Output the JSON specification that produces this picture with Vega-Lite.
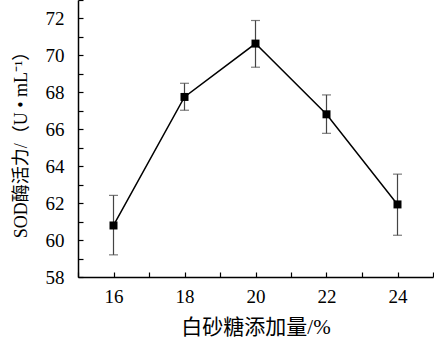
{
  "$schema": "https://vega.github.io/schema/vega-lite/v6.json",
  "width": 355,
  "height": 277,
  "autosize": {"type": "none"},
  "padding": {"left": 78, "top": 0, "right": 1, "bottom": 66},
  "background": "white",
  "config": {
    "font": "'Liberation Serif', 'DejaVu Serif', serif",
    "view": {"stroke": null},
    "axis": {
      "labelFontSize": 19,
      "titleFontSize": 19,
      "labelColor": "black",
      "titleColor": "black",
      "titleFontWeight": "normal",
      "domainColor": "black",
      "domainWidth": 1.5,
      "tickColor": "black",
      "tickWidth": 1.2,
      "grid": false
    }
  },
  "data": {
    "values": [
      {"x": 16, "y": 60.79, "lo": 59.2, "hi": 62.42},
      {"x": 18, "y": 67.75, "lo": 67.03, "hi": 68.49},
      {"x": 20, "y": 70.64, "lo": 69.36, "hi": 71.89},
      {"x": 22, "y": 66.81, "lo": 65.78, "hi": 67.86},
      {"x": 24, "y": 61.93, "lo": 60.26, "hi": 63.57}
    ]
  },
  "encoding": {
    "x": {
      "field": "x",
      "type": "quantitative",
      "scale": {"domain": [15, 25], "nice": false, "zero": false},
      "axis": {
        "title": "白砂糖添加量/%",
        "labelFont": "'Liberation Serif', 'DejaVu Serif', serif",
        "titleFont": "'Liberation Serif', 'Noto Sans CJK SC', serif",
        "titleFontSize": 21,
        "values": [15, 16, 17, 18, 19, 20, 21, 22, 23, 24, 25],
        "labelExpr": "datum.value % 2 == 0 && datum.value > 15 && datum.value < 25 ? datum.label : ''",
        "tickSize": -5,
        "labelPadding": 15,
        "titlePadding": 10,
        "labelFlush": false
      }
    },
    "y": {
      "field": "y",
      "type": "quantitative",
      "scale": {"domain": [58, 73], "nice": false, "zero": false},
      "axis": {
        "title": "SOD酶活力/（U • mL⁻¹）",
        "labelFont": "'Liberation Serif', 'DejaVu Serif', serif",
        "titleFont": "'Liberation Serif', 'Noto Sans CJK SC', serif",
        "titleFontSize": 18,
        "values": [58, 59, 60, 61, 62, 63, 64, 65, 66, 67, 68, 69, 70, 71, 72, 73],
        "labelExpr": "datum.value % 2 == 0 ? datum.label : ''",
        "tickSize": -5,
        "labelPadding": 19,
        "titleY": 140,
        "titleX": -48,
        "labelFlush": false
      }
    }
  },
  "layer": [
    {
      "mark": {"type": "errorbar", "ticks": {"size": 9, "color": "#444"}, "color": "#444", "thickness": 1.2},
      "encoding": {
        "y": {"field": "lo", "type": "quantitative"},
        "y2": {"field": "hi"}
      }
    },
    {
      "mark": {"type": "line", "color": "black", "strokeWidth": 1.5}
    },
    {
      "mark": {"type": "point", "shape": "square", "filled": true, "color": "black", "opacity": 1, "size": 64}
    }
  ]
}
